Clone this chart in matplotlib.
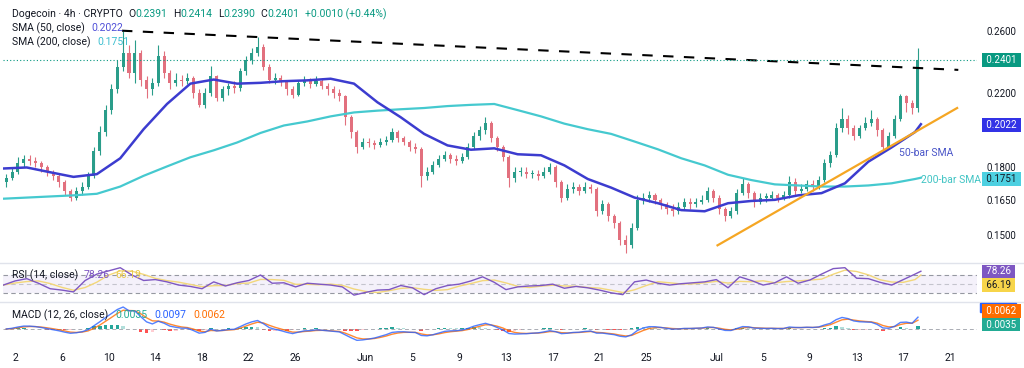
import numpy as np
import pandas as pd
import matplotlib
matplotlib.use("Agg")
import matplotlib.pyplot as plt
from matplotlib.lines import Line2D
from matplotlib.patches import Rectangle
from matplotlib.text import Annotation
from matplotlib.ticker import NullLocator, FuncFormatter

plt.rcParams['font.family'] = ['Roboto', 'DejaVu Sans']

# 12h candles, May 1 00:00 -> Jul 18 (days since May 1)
first_open = 0.173
closes = [
    .175, .178, .182, .184, .183, .182, .180, .178, .176, .173,   # May 1-5
    .169, .166, .169, .171, .176, .188, .198, .210, .222, .236,   # May 6-10
    .245, .232, .245, .228, .222, .226, .243, .232, .226, .228,   # May 11-15
    .227, .229, .220, .213, .220, .230, .217, .222, .224, .223,   # May 16-20
    .233, .240, .245, .249, .236, .228, .229, .227, .222, .219,   # May 21-25
    .226, .227, .225, .227, .224, .222, .220, .218, .206, .198,   # May 26-30
    .190, .193, .192, .191, .193, .194, .198, .195, .193, .190,   # May 31-Jun 4
    .189, .176, .178, .181, .184, .186, .184, .183, .185, .190,   # Jun 5-9
    .196, .199, .203, .195, .190, .185, .175, .178, .178, .177,   # Jun 10-14
    .177, .176, .178, .180, .173, .166, .170, .171, .169, .171,   # Jun 15-19
    .170, .160, .163, .158, .155, .148, .146, .153, .165, .166,   # Jun 20-24
    .167, .165, .163, .161, .160, .162, .164, .163, .164, .165,   # Jun 25-29
    .169, .166, .161, .158, .160, .168, .172, .168, .164, .166,   # Jun 30-Jul 4
    .166, .167, .166, .167, .173, .169, .170, .172, .171, .174,   # Jul 5-9
    .182, .186, .200, .205, .200, .196, .200, .203, .205, .199,   # Jul 10-14
    .190, .196, .205, .218, .214, .211, .2401,                    # Jul 15-18
]
highs = [
    .177, .180, .185, .186, .186, .185, .183, .181, .179, .177,
    .174, .170, .171, .173, .178, .190, .201, .213, .225, .240,
    .260, .250, .2535, .247, .230, .229, .250, .246, .234, .232,
    .231, .232, .230, .222, .223, .2365, .231, .224, .226, .227,
    .235, .243, .248, .2555, .251, .238, .232, .231, .228, .224,
    .228, .230, .229, .230, .229, .226, .224, .222, .219, .207,
    .199, .195, .195, .194, .195, .196, .200, .199, .196, .194,
    .192, .190, .180, .183, .186, .188, .187, .186, .187, .192,
    .198, .201, .206, .204, .196, .191, .186, .180, .180, .180,
    .179, .179, .180, .182, .181, .174, .172, .173, .172, .173,
    .172, .171, .165, .164, .159, .156, .150, .155, .167, .168,
    .169, .168, .166, .164, .163, .164, .166, .166, .166, .167,
    .171, .170, .167, .162, .162, .170, .175, .173, .169, .168,
    .168, .169, .168, .169, .176, .175, .172, .174, .174, .176,
    .184, .188, .203, .211, .207, .202, .202, .206, .210, .206,
    .200, .198, .207, .2195, .219, .216, .2485,
]
lows = [
    .171, .174, .177, .180, .181, .180, .178, .176, .174, .171,
    .167, .1645, .165, .167, .170, .175, .186, .196, .208, .220,
    .233, .229, .226, .224, .217, .219, .224, .229, .222, .224,
    .224, .225, .217, .2115, .211, .218, .215, .215, .219, .220,
    .221, .231, .238, .243, .234, .226, .225, .224, .219, .217,
    .218, .224, .223, .224, .222, .219, .217, .215, .202, .195,
    .187, .189, .190, .189, .190, .191, .193, .193, .191, .188,
    .187, .171, .174, .177, .180, .183, .182, .181, .182, .184,
    .189, .194, .197, .193, .188, .183, .171, .173, .176, .175,
    .175, .174, .175, .177, .171, .164, .165, .168, .167, .168,
    .168, .158, .159, .156, .153, .146, .143, .145, .152, .163,
    .164, .163, .161, .159, .158, .159, .161, .161, .162, .163,
    .164, .164, .159, .156, .157, .159, .167, .166, .162, .163,
    .164, .165, .164, .165, .166, .167, .168, .169, .169, .170,
    .173, .180, .185, .198, .197, .194, .195, .199, .201, .196,
    .188, .189, .195, .204, .209, .208, .209,
]

sma_days = list(range(0, 79, 2)) + [78.5]
sma50 = [0.1795, 0.180, 0.1777, 0.1755, 0.1768, 0.1845, 0.1995, 0.2135, 0.2255, 0.228,
         0.2255, 0.226, 0.227, 0.2275, 0.2285, 0.2255, 0.2145, 0.206, 0.197, 0.191,
         0.1888, 0.1895, 0.1865, 0.186, 0.181, 0.1745, 0.1705, 0.166, 0.1635, 0.1605,
         0.160, 0.1635, 0.1645, 0.165, 0.167, 0.168, 0.1725, 0.1828, 0.190, 0.198, 0.2022]
sma200 = [0.1655, 0.166, 0.1665, 0.167, 0.1677, 0.171, 0.176, 0.1805, 0.185, 0.1885,
          0.1925, 0.1975, 0.2015, 0.2037, 0.2065, 0.2087, 0.2097, 0.2105, 0.2112, 0.2123,
          0.213, 0.2135, 0.210, 0.2065, 0.2025, 0.1995, 0.197, 0.193, 0.189, 0.1845,
          0.181, 0.1765, 0.174, 0.172, 0.1715, 0.171, 0.171, 0.1715, 0.1725, 0.1745, 0.1751]

rsi_days = list(range(0, 79)) + [78.5]
rsi = [48, 57, 62, 52, 40, 37, 33, 58, 72, 79,
       86, 70, 58, 60, 55, 48, 45, 40, 55, 46,
       53, 58, 70, 52, 53, 44, 52, 50, 48, 44,
       26, 32, 37, 38, 47, 42, 27, 40, 47, 50,
       57, 66, 54, 38, 44, 46, 47, 50, 41, 45,
       42, 37, 31, 27, 55, 59, 52, 48, 51, 53,
       55, 60, 42, 66, 58, 48, 53, 66, 52, 59,
       72, 84, 86, 63, 62, 54, 48, 60, 72, 78.26]

res_days, res_prices = [10.15, 81.7], [0.26, 0.234]
sup_days, sup_prices = [61.1, 81.6], [0.146, 0.2112]

tick_days = [1, 5, 9, 13, 17, 21, 25, 31, 35, 39, 43, 47, 51, 55, 61, 65, 69, 73, 77, 81]
tick_labels = ['2', '6', '10', '14', '18', '22', '26', 'Jun', '5', '9', '13', '17', '21', '25',
               'Jul', '5', '9', '13', '17', '21']
price_ticks = [0.15, 0.165, 0.18, 0.22, 0.26]

DARK = '#131722'
UP, DOWN = '#2a9d8a', '#e2707e'
W, H = 1024, 368

fig = plt.figure(figsize=(W / 100, H / 100), dpi=100)


def box(top, bottom):
    return [3 / W, 1 - bottom / H, 974 / W, (bottom - top) / H]


ax1 = fig.add_axes(box(3, 262))
ax2 = fig.add_axes(box(263, 301), sharex=ax1)
ax3 = fig.add_axes(box(302, 345), sharex=ax1)

for ax in (ax1, ax2, ax3):
    for s in ax.spines.values():
        s.set_visible(False)
    ax.tick_params(length=0, labelsize=7, colors=DARK)
    ax.set_xlim(-0.03, 83.3)

# ---- price pane
c = np.array(closes)
o = np.r_[first_open, c[:-1]]
t = 0.25 + 0.5 * np.arange(len(c))
cols = [UP if cc >= oo else DOWN for cc, oo in zip(c, o)]
ax1.vlines(t, lows, highs, colors=cols, lw=0.8)
body = np.maximum(np.abs(c - o), 0.0005)
ax1.bar(t, body, bottom=np.minimum(o, c), width=0.26, color=cols, lw=0)

ax1.plot(sma_days, sma200, color='#45c9cf', lw=1.6)
ax1.plot(sma_days, sma50, color='#3c3ccf', lw=1.8)
ax1.plot(res_days, res_prices, color='black', lw=1.5, ls=(0, (5, 5)))
ax1.plot(sup_days, sup_prices, color='#f5a623', lw=1.6)
ax1.axhline(0.2401, color='#089981', lw=0.8, ls=(0, (1, 2)))

ax1.text(76.6, 0.1872, '50-bar SMA', color='#4a55c8', fontsize=7.5, va='center')
ax1.text(78.5, 0.1742, '200-bar SMA', color='#40c4c4', fontsize=7.5, va='center')

ax1.set_yscale('log')
ax1.set_ylim(0.1396, 0.2801)
ax1.yaxis.set_minor_locator(NullLocator())
ax1.set_yticks(price_ticks)
ax1.yaxis.set_major_formatter(FuncFormatter(lambda v, p: f'{v:.4f}'))
ax1.yaxis.set_minor_formatter(FuncFormatter(lambda v, p: ''))
ax1.yaxis.tick_right()
ax1.tick_params(axis='y', pad=7)
ax1.tick_params(axis='x', labelbottom=False)

# ---- RSI pane
ax2.set_ylim(13.1, 96.3)
ax2.axhspan(30, 70, color='#7e57c2', alpha=0.08, lw=0)
for lvl, a in ((70, 1), (50, 0.5), (30, 1)):
    ax2.axhline(lvl, color='#9598a1', lw=0.8, ls=(0, (4, 3)), alpha=a)
rsi_ma = pd.Series(rsi).rolling(3, min_periods=1).mean()
ax2.plot(rsi_days, rsi_ma, color='#f3d77a', lw=1)
ax2.plot(rsi_days, rsi, color='#7e57c2', lw=1)
ax2.set_yticks([])
ax2.tick_params(axis='x', labelbottom=False)

# ---- MACD pane
cs = pd.Series(closes)
macd = cs.ewm(span=4, adjust=False).mean() - cs.ewm(span=26 / 3, adjust=False).mean()
signal = macd.ewm(span=3, adjust=False).mean()
hist = (macd - signal).values
hcols = []
for i, h in enumerate(hist):
    prev = hist[i - 1] if i else 0
    if h >= 0:
        hcols.append('#26a69a' if h >= prev else '#b2dfdb')
    else:
        hcols.append('#ff5252' if h < prev else '#ffcdd2')
ax3.axhline(0, color='#9598a1', lw=0.7, ls=(0, (4, 3)), alpha=0.8)
ax3.bar(t, hist, width=0.3, color=hcols, lw=0)
ax3.plot(t, signal, color='#ff6d00', lw=1, alpha=0.8)
ax3.plot(t, macd, color='#2962ff', lw=1, alpha=0.8)
peak = macd.max()
ax3.set_ylim(-peak * 16 / 22, peak * 27 / 22)
ax3.set_yticks([])
ax3.set_xticks(tick_days)
ax3.set_xticklabels(tick_labels)
ax3.tick_params(axis='x', labelsize=7.5, pad=6)

# pane separators
for yp in (262.5, 301.5):
    fig.add_artist(Line2D([0, 1], [1 - yp / H] * 2, color='#e0e3eb', lw=1,
                          transform=fig.transFigure))


# legends: pieces chained one after the other
def chain(x_px, y_px, parts, size=7.5):
    prev = fig.text(x_px / W, 1 - y_px / H, parts[0][0], color=parts[0][1],
                    fontsize=size, ha='left', va='center', zorder=5)
    for text, color, gap in parts[1:]:
        a = Annotation(text, xy=(1, 0.5), xycoords=prev, xytext=(gap, 0),
                       textcoords='offset points', ha='left', va='center',
                       color=color, fontsize=size, zorder=5)
        fig.add_artist(a)
        prev = a


TEAL = '#089981'
chain(12, 14, [('Dogecoin · 4h · CRYPTO', DARK), ('O', DARK, 4), ('0.2391', TEAL, 0),
               ('H', DARK, 4), ('0.2414', TEAL, 0), ('L', DARK, 4), ('0.2390', TEAL, 0),
               ('C', DARK, 4), ('0.2401', TEAL, 0), ('+0.0010 (+0.44%)', TEAL, 4)])
chain(12, 28, [('SMA (50, close)', DARK), ('0.2022', '#5050d8', 5)])
chain(12, 42, [('SMA (200, close)', DARK), ('0.1751', '#3cbfd0', 5)])
chain(12, 275, [('RSI (14, close)', DARK), ('78.26', '#7e57c2', 4), ('66.19', '#e8c84a', 4)])
chain(12, 315, [('MACD (12, 26, close)', DARK), ('0.0035', '#22ab94', 5),
                ('0.0097', '#2962ff', 5), ('0.0062', '#ff6d00', 5)])

# MACD line value box, mostly hidden behind the signal box
fig.add_artist(Rectangle((980 / W, 1 - 312 / H), 36 / W, 9 / H, color='#2962ff',
                         transform=fig.transFigure, zorder=4))

# right-hand value boxes
boxes = [(60, '0.2401', '#089981', 'white'), (125, '0.2022', '#3232e6', 'white'),
         (179, '0.1751', '#4dd0e1', DARK), (271.5, '78.26', '#7e57c2', 'white'),
         (285, '66.19', '#f7d54a', DARK), (311, '0.0062', '#ff6d00', 'white'),
         (324.5, '0.0035', '#22ab94', 'white')]
for yp, s, fc, tc in boxes:
    fig.text(984 / W, 1 - yp / H, ' ' + s + ' ', color=tc, fontsize=7, ha='left', va='center',
             zorder=6, bbox=dict(boxstyle='square,pad=0.2', fc=fc, ec='none'))

fig.savefig('out.png', dpi=100, facecolor='white')
